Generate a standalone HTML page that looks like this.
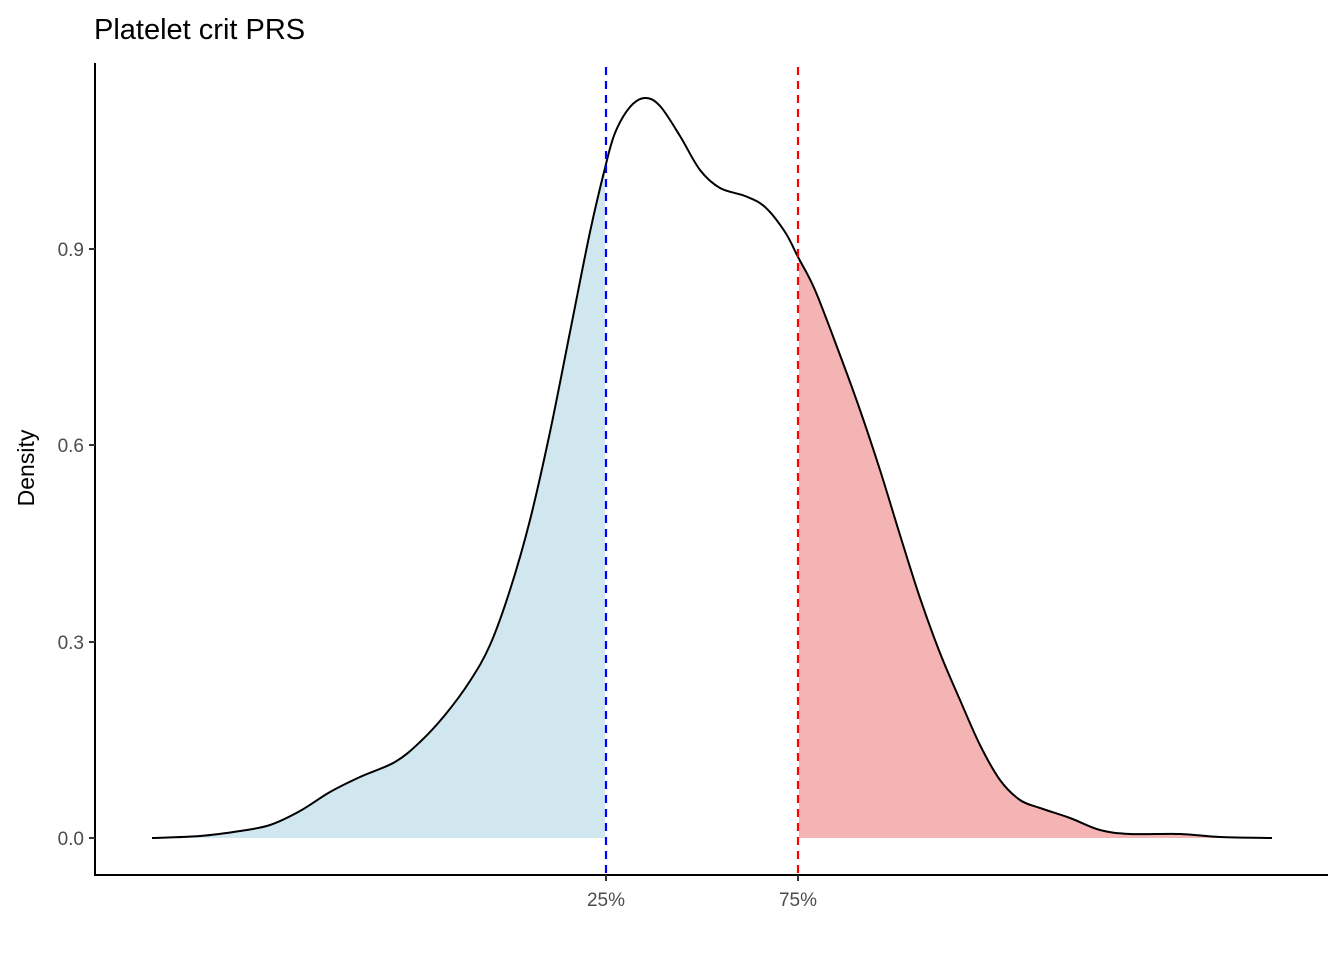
<!DOCTYPE html>
<html><head><meta charset="utf-8"><style>
body{margin:0;background:#fff;}
svg{display:block;font-family:"Liberation Sans",Arial,sans-serif;}
</style></head><body>
<svg width="1344" height="960" viewBox="0 0 1344 960">
<rect width="1344" height="960" fill="#fff"/>
<defs>
<clipPath id="cl"><rect x="0" y="0" width="605" height="960"/></clipPath>
<clipPath id="cr"><rect x="799" y="0" width="600" height="960"/></clipPath>
</defs>
<path id="a1" fill="#d0e7f0" clip-path="url(#cl)"/>
<path id="a2" fill="#f4b4b4" clip-path="url(#cr)"/>
<path id="ln" fill="none" stroke="#000" stroke-width="2" stroke-linejoin="round"/>
<line x1="606" y1="67" x2="606" y2="875" stroke="#0000ff" stroke-width="2.2" stroke-dasharray="8,6"/>
<line x1="798" y1="67" x2="798" y2="875" stroke="#ff0000" stroke-width="2.2" stroke-dasharray="8,6"/>
<line x1="95" y1="63" x2="95" y2="876" stroke="#000" stroke-width="2"/>
<line x1="94" y1="875" x2="1328" y2="875" stroke="#000" stroke-width="2"/>
<g stroke="#333" stroke-width="2">
<line x1="89" y1="838" x2="95" y2="838"/><line x1="89" y1="642" x2="95" y2="642"/>
<line x1="89" y1="445" x2="95" y2="445"/><line x1="89" y1="249" x2="95" y2="249"/>
<line x1="606" y1="875" x2="606" y2="881"/><line x1="798" y1="875" x2="798" y2="881"/>
</g>
<g font-size="19" fill="#4d4d4d" text-anchor="end">
<text x="84" y="845">0.0</text><text x="84" y="649">0.3</text>
<text x="84" y="452">0.6</text><text x="84" y="256">0.9</text>
</g>
<g font-size="19" fill="#4d4d4d" text-anchor="middle">
<text x="606" y="906">25%</text><text x="798" y="906">75%</text>
</g>
<text transform="translate(34,468) rotate(-90)" font-size="23" text-anchor="middle" fill="#000">Density</text>
<text x="94" y="39" font-size="29" fill="#000">Platelet crit PRS</text>
</svg>
<script>
var p=[[152,838],[200,836],[240,831],[270,825],[300,811],[330,792],[360,777],[395,762],[420,742],[445,715],[470,681],[490,645],[510,590],[530,520],[550,432],[570,332],[590,232],[605,168],[615,133],[630,107],[645,98],[660,106],[680,136],[700,170],[720,188],[745,196],[765,207],[785,232],[798,257],[815,290],[840,355],[860,410],[880,470],[900,535],[920,598],[940,653],[960,700],[980,745],[1000,780],[1020,800],[1040,808],[1070,818],[1100,830],[1130,834],[1180,834],[1220,837],[1272,838]];
var d="M"+p[0][0]+","+p[0][1];
for(var i=0;i<p.length-1;i++){var a=p[i-1]||p[i],b=p[i],c=p[i+1],e=p[i+2]||c;
d+=" C"+(b[0]+(c[0]-a[0])/6)+","+(b[1]+(c[1]-a[1])/6)+" "+(c[0]-(e[0]-b[0])/6)+","+(c[1]-(e[1]-b[1])/6)+" "+c[0]+","+c[1];}
document.getElementById("ln").setAttribute("d",d);
document.getElementById("a1").setAttribute("d",d+" Z");
document.getElementById("a2").setAttribute("d",d+" Z");
</script>
</body></html>
